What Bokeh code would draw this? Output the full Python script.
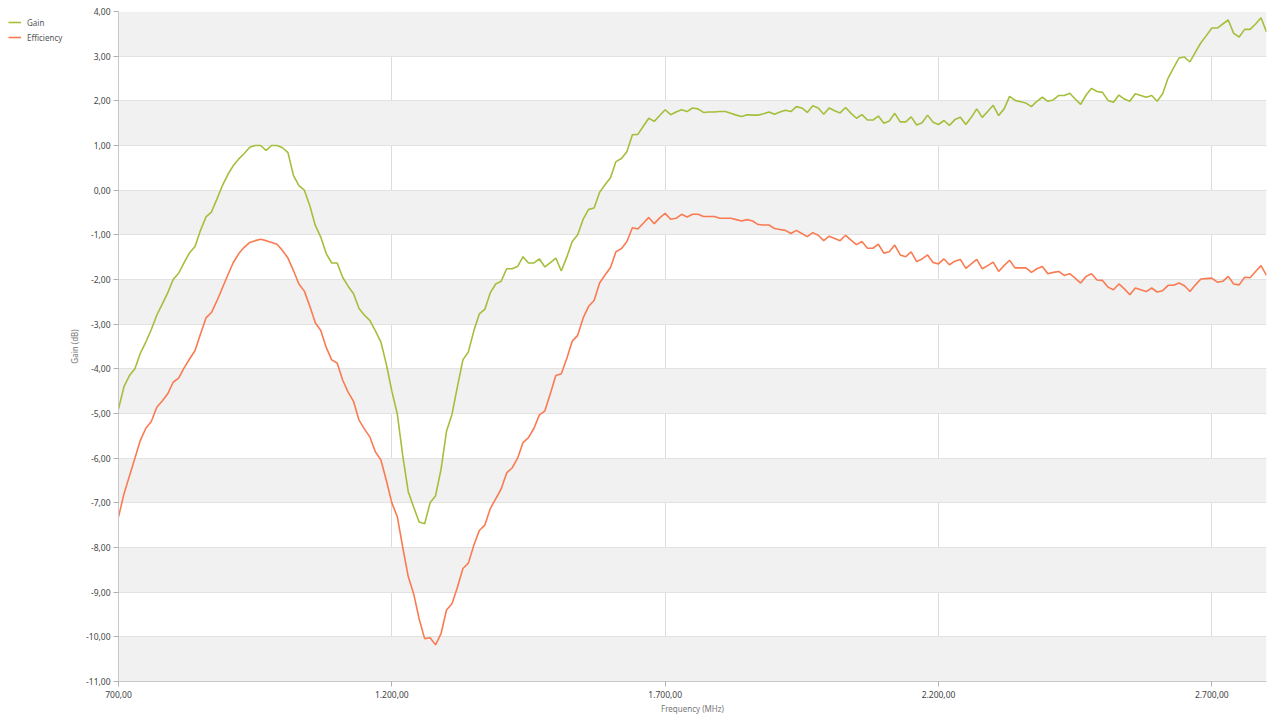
from bokeh.plotting import figure
from bokeh.layouts import row
from bokeh.models import (Range1d, FixedTicker, CustomJSTickFormatter, Legend, LegendItem,
                          ColumnDataSource)
from bokeh.embed import file_html
from bokeh.resources import INLINE

freq_mhz = list(range(700, 2801, 10))

gain_db = [
    -4.90, -4.40, -4.15, -4.00, -3.65, -3.40, -3.12, -2.80, -2.55, -2.30,
    -2.00, -1.86, -1.62, -1.40, -1.26, -0.90, -0.60, -0.49, -0.20, 0.10,
    0.35, 0.55, 0.70, 0.82, 0.96, 1.00, 1.00, 0.89, 1.00, 1.00,
    0.95, 0.84, 0.33, 0.10, 0.00, -0.35, -0.79, -1.05, -1.42, -1.63,
    -1.63, -1.95, -2.15, -2.32, -2.65, -2.80, -2.92, -3.15, -3.40, -3.90,
    -4.50, -5.01, -5.95, -6.75, -7.10, -7.43, -7.47, -7.00, -6.84, -6.25,
    -5.40, -5.02, -4.40, -3.80, -3.62, -3.15, -2.77, -2.67, -2.30, -2.10,
    -2.04, -1.76, -1.76, -1.71, -1.49, -1.63, -1.63, -1.54, -1.72, -1.62,
    -1.52, -1.81, -1.50, -1.15, -1.00, -0.65, -0.43, -0.40, -0.05, 0.12,
    0.28, 0.64, 0.71, 0.86, 1.24, 1.25, 1.43, 1.61, 1.54, 1.67,
    1.80, 1.69, 1.75, 1.80, 1.76, 1.84, 1.82, 1.74, 1.75, 1.75,
    1.76, 1.76, 1.72, 1.68, 1.65, 1.69, 1.68, 1.68, 1.71, 1.75,
    1.70, 1.75, 1.79, 1.76, 1.87, 1.84, 1.74, 1.89, 1.84, 1.70,
    1.84, 1.78, 1.73, 1.85, 1.72, 1.61, 1.69, 1.57, 1.57, 1.66,
    1.50, 1.55, 1.72, 1.53, 1.53, 1.64, 1.46, 1.51, 1.68, 1.52,
    1.47, 1.56, 1.45, 1.58, 1.63, 1.47, 1.63, 1.82, 1.63, 1.76,
    1.90, 1.67, 1.82, 2.10, 2.01, 1.98, 1.95, 1.87, 1.99, 2.08,
    1.99, 2.02, 2.12, 2.12, 2.17, 2.04, 1.92, 2.13, 2.28, 2.21,
    2.19, 2.01, 1.97, 2.13, 2.04, 1.99, 2.16, 2.12, 2.08, 2.12,
    1.99, 2.16, 2.51, 2.74, 2.96, 2.98, 2.87, 3.09, 3.30, 3.46,
    3.63, 3.63, 3.72, 3.81, 3.51, 3.43, 3.60, 3.60, 3.72, 3.86,
    3.54,
]

efficiency_db = [
    -7.32, -6.80, -6.40, -6.00, -5.60, -5.33, -5.18, -4.86, -4.72, -4.56,
    -4.30, -4.21, -3.98, -3.78, -3.59, -3.22, -2.86, -2.74, -2.48, -2.19,
    -1.90, -1.62, -1.42, -1.28, -1.17, -1.13, -1.10, -1.13, -1.17, -1.21,
    -1.35, -1.52, -1.80, -2.10, -2.26, -2.60, -2.97, -3.14, -3.52, -3.80,
    -3.87, -4.25, -4.52, -4.73, -5.15, -5.35, -5.53, -5.86, -6.04, -6.50,
    -7.00, -7.31, -8.00, -8.65, -9.04, -9.60, -10.04, -10.02, -10.18, -9.93,
    -9.40, -9.26, -8.89, -8.47, -8.35, -7.95, -7.62, -7.50, -7.13, -6.91,
    -6.69, -6.33, -6.22, -6.00, -5.65, -5.54, -5.33, -5.03, -4.94, -4.55,
    -4.15, -4.11, -3.77, -3.38, -3.25, -2.86, -2.60, -2.47, -2.08, -1.90,
    -1.73, -1.38, -1.31, -1.15, -0.84, -0.87, -0.74, -0.61, -0.75, -0.62,
    -0.52, -0.65, -0.63, -0.54, -0.60, -0.54, -0.54, -0.59, -0.59, -0.59,
    -0.63, -0.63, -0.63, -0.66, -0.69, -0.66, -0.69, -0.77, -0.78, -0.78,
    -0.86, -0.88, -0.90, -0.97, -0.90, -0.97, -1.04, -0.95, -1.01, -1.13,
    -1.03, -1.08, -1.13, -1.01, -1.12, -1.22, -1.15, -1.30, -1.30, -1.21,
    -1.41, -1.38, -1.23, -1.45, -1.49, -1.38, -1.60, -1.54, -1.45, -1.62,
    -1.65, -1.54, -1.67, -1.59, -1.55, -1.75, -1.65, -1.55, -1.76, -1.69,
    -1.61, -1.82, -1.69, -1.57, -1.74, -1.74, -1.74, -1.84, -1.76, -1.71,
    -1.87, -1.84, -1.82, -1.91, -1.87, -1.97, -2.08, -1.93, -1.87, -2.01,
    -2.02, -2.17, -2.23, -2.10, -2.21, -2.34, -2.19, -2.23, -2.27, -2.19,
    -2.28, -2.25, -2.13, -2.13, -2.08, -2.14, -2.27, -2.12, -1.99, -1.98,
    -1.97, -2.06, -2.04, -1.93, -2.10, -2.12, -1.95, -1.96, -1.82, -1.69,
    -1.91,
]

series_names = ["Gain", "Efficiency"]
x_ticks = [700, 1200, 1700, 2200, 2700]
y_ticks = list(range(-11, 5))

FONT = "Noto Sans"
GAIN_COLOR = "#a3bf3b"
EFF_COLOR = "#fa7b52"
LEGEND_W = 64
H = 722

src = ColumnDataSource(dict(f=freq_mhz, g=gain_db, e=efficiency_db))

# ---------------- main chart ----------------
p = figure(width=1282 - LEGEND_W, height=H, output_backend="svg", toolbar_location=None,
           x_range=Range1d(700, 2800), y_range=Range1d(-11, 4),
           min_border_left=118 - LEGEND_W, min_border_right=16, min_border_top=11,
           min_border_bottom=41, background_fill_color="white",
           border_fill_color="white")
p.outline_line_color = None

p.line("f", "g", source=src, line_color=GAIN_COLOR, line_width=1.6)
p.line("f", "e", source=src, line_color=EFF_COLOR, line_width=1.6)

p.xaxis.ticker = FixedTicker(ticks=x_ticks)
p.yaxis.ticker = FixedTicker(ticks=y_ticks)
p.xaxis.formatter = CustomJSTickFormatter(code="""
const s = tick.toFixed(2).split('.');
const i = s[0].replace(/\\B(?=(\\d{3})+(?!\\d))/g, '.');
return i + ',' + s[1];
""")
p.yaxis.formatter = CustomJSTickFormatter(code="""
return tick.toFixed(2).replace('.', ',');
""")
for ax in (p.xaxis, p.yaxis):
    ax.axis_line_color = "#c8c8c8"
    ax.major_tick_line_color = "#b0b0b0"
    ax.major_tick_in = 0
    ax.major_tick_out = 5
    ax.minor_tick_line_color = None
    ax.major_label_text_font = FONT
    ax.major_label_text_font_size = "8.5px"
    ax.major_label_text_color = "#444444"
    ax.axis_label_text_font = FONT
    ax.axis_label_text_font_size = "8px"
    ax.axis_label_text_font_style = "normal"
    ax.axis_label_text_color = "#777777"
p.xaxis.axis_label = "Frequency (MHz)"
p.yaxis.axis_label = "Gain (dB)"
p.xaxis.major_label_standoff = 4
p.yaxis.major_label_standoff = 3
p.xaxis.axis_label_standoff = 2
p.yaxis.axis_label_standoff = 3

# grids (first tick duplicated so the alternating bands start at the bottom band)
p.xgrid.ticker = FixedTicker(ticks=x_ticks)
p.xgrid.grid_line_color = "#dcdcdc"
p.ygrid.ticker = FixedTicker(ticks=[y_ticks[0]] + y_ticks)
p.ygrid.grid_line_color = "#e2e2e2"
p.ygrid.band_fill_color = "#f1f1f1"
p.ygrid.band_fill_alpha = 1.0

# ---------------- legend column at the left ----------------
lg = figure(width=LEGEND_W, height=H, output_backend="svg", toolbar_location=None,
            x_range=Range1d(0, 1), y_range=Range1d(0, 1),
            x_axis_type=None, y_axis_type=None,
            min_border_left=4, min_border_right=0, min_border_top=3, min_border_bottom=0,
            background_fill_color="white", border_fill_color="white")
lg.outline_line_color = None
lg.grid.visible = False
# same series, outside this panel's visible range: they only feed the legend
lg_gain = lg.line("f", "g", source=src, line_color=GAIN_COLOR, line_width=1.6)
lg_eff = lg.line("f", "e", source=src, line_color=EFF_COLOR, line_width=1.6)

legend = Legend(items=[LegendItem(label=series_names[0], renderers=[lg_gain]),
                       LegendItem(label=series_names[1], renderers=[lg_eff])],
                location="top_left", orientation="vertical",
                background_fill_alpha=0, border_line_color=None,
                padding=0, margin=4, spacing=1,
                glyph_width=13, glyph_height=14, label_height=14,
                label_standoff=6, label_text_font=FONT,
                label_text_font_size="8px", label_text_color="#555555")
lg.add_layout(legend, "center")

layout = row(lg, p, spacing=0)
open("out.html", "w").write(file_html(layout, INLINE))
